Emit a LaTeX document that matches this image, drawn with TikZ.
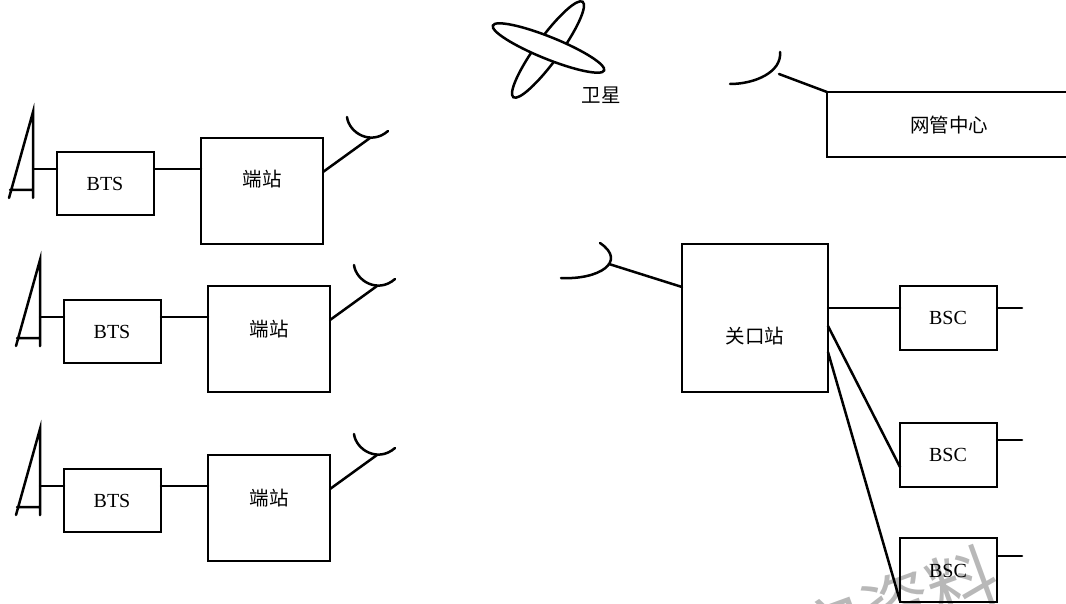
\documentclass[tikz,border=0pt]{standalone}
\usepackage{fontspec}
\setmainfont{Liberation Serif}
\newfontfamily\cjk{Noto Sans CJK SC}
\tikzset{
  px/.style={x=1pt,y=-1pt},
  ln/.style={line width=2.5pt,black,line cap=round,line join=miter},
  lbl/.style={font=\fontsize{20}{22}\selectfont,inner sep=0pt},
  cjklbl/.style={font=\cjk\fontsize{19.5}{22}\selectfont,inner sep=0pt},
  box/.style={draw=black,line width=2.5pt,minimum width=#1,inner sep=0pt,outer sep=0pt,anchor=north west},
  wm/.style={font=\cjk\fontsize{70}{76}\selectfont,text=black!28,inner sep=0pt,rotate=20}
}
\begin{document}
\begin{tikzpicture}[px]
\useasboundingbox (0,0) rectangle (1066,604);
\clip (0,0) rectangle (1066,604);
% watermark
\node[wm] (wmark) at (897,606) {安资料};
% row 1
\node[box=97pt,minimum height=63pt] (bts1) at (57,152) {};
\node[box=122pt,minimum height=106pt] (st1) at (201,138) {};
\node[lbl] (bts1t) at (105,184) {BTS};
\node[cjklbl] (st1t) at (262,179) {端站};
\coordinate (a1) at (33,112); \coordinate (a1b) at (33,198); \coordinate (a1c) at (9,198);
\coordinate (a1l) at (10,190); \coordinate (a1r) at (33,190); \coordinate (a1m) at (33,169);
\coordinate (f1) at (370,138); \coordinate (s1) at (323,172);
\draw[ln] (a1b) -- (a1) -- (a1c) (a1l) -- (a1r);
\draw[ln] (a1m) -- (bts1.west |- a1m);
\draw[ln] (bts1.east |- a1m) -- (st1.west |- a1m);
\draw[ln] (s1) -- (f1);
\draw[ln] (347,117) .. controls (349,133) and (371,146) .. (388,131);
% row 2
\node[box=97pt,minimum height=63pt] (bts2) at (64,300) {};
\node[box=122pt,minimum height=106pt] (st2) at (208,286) {};
\node[lbl] (bts2t) at (112,332) {BTS};
\node[cjklbl] (st2t) at (269,329) {端站};
\coordinate (a2) at (40,260); \coordinate (a2b) at (40,346); \coordinate (a2c) at (16,346);
\coordinate (a2l) at (17,338); \coordinate (a2r) at (40,338); \coordinate (a2m) at (40,317);
\coordinate (f2) at (377,286); \coordinate (s2) at (330,320);
\draw[ln] (a2b) -- (a2) -- (a2c) (a2l) -- (a2r);
\draw[ln] (a2m) -- (bts2.west |- a2m);
\draw[ln] (bts2.east |- a2m) -- (st2.west |- a2m);
\draw[ln] (s2) -- (f2);
\draw[ln] (354,265) .. controls (356,281) and (378,294) .. (395,279);
% row 3
\node[box=97pt,minimum height=63pt] (bts3) at (64,469) {};
\node[box=122pt,minimum height=106pt] (st3) at (208,455) {};
\node[lbl] (bts3t) at (112,501) {BTS};
\node[cjklbl] (st3t) at (269,498) {端站};
\coordinate (a3) at (40,429); \coordinate (a3b) at (40,515); \coordinate (a3c) at (16,515);
\coordinate (a3l) at (17,507); \coordinate (a3r) at (40,507); \coordinate (a3m) at (40,486);
\coordinate (f3) at (377,455); \coordinate (s3) at (330,489);
\draw[ln] (a3b) -- (a3) -- (a3c) (a3l) -- (a3r);
\draw[ln] (a3m) -- (bts3.west |- a3m);
\draw[ln] (bts3.east |- a3m) -- (st3.west |- a3m);
\draw[ln] (s3) -- (f3);
\draw[ln] (354,434) .. controls (356,450) and (378,463) .. (395,448);
% satellite
\draw[ln,fill=white] (548,49.5) ellipse [x radius=59pt,y radius=12pt,rotate=54];
\draw[ln,fill=white] (548.5,48) ellipse [x radius=60pt,y radius=11pt,rotate=-22];
\node[cjklbl] (sat) at (601,95) {卫星};
% network centre
\node[box=242pt,minimum height=65pt] (nmc) at (827,92) {};
\node[cjklbl] (nmct) at (949,125) {网管中心};
\coordinate (nf) at (779,74);
\draw[ln] (nf) -- (nmc.north west);
\draw[ln] (730,84) .. controls (755,84) and (782,72) .. (780,52);
% gateway
\node[box=146pt,minimum height=148pt] (gw) at (682,244) {};
\node[cjklbl] (gwt) at (755,336) {关口站};
\coordinate (gf) at (609,264); \coordinate (gs) at (682,287);
\draw[ln] (gf) -- (gs);
\draw[ln] (561,278) .. controls (598,280) and (628,262) .. (600,243);
% BSC
\node[box=97pt,minimum height=64pt] (b1) at (900,286) {};
\node[box=97pt,minimum height=64pt] (b2) at (900,423) {};
\node[box=97pt,minimum height=64pt] (b3) at (900,538) {};
\node[lbl] (b1t) at (948,318) {BSC};
\node[lbl] (b2t) at (948,455) {BSC};
\node[lbl] (b3t) at (948,571) {BSC};
\coordinate (g1) at (828,308); \coordinate (g2) at (828,326); \coordinate (g3) at (828,352);
\coordinate (e2) at (900,467); \coordinate (e3) at (900,601);
\coordinate (t1) at (1022,308); \coordinate (t2) at (1022,440); \coordinate (t3) at (1022,556);
\draw[ln] (g1) -- (b1.west |- g1);
\draw[ln] (g2) -- (e2);
\draw[ln] (g3) -- (e3);
\draw[ln] (b1.east |- t1) -- (t1);
\draw[ln] (b2.east |- t2) -- (t2);
\draw[ln] (b3.east |- t3) -- (t3);
\end{tikzpicture}
\end{document}
